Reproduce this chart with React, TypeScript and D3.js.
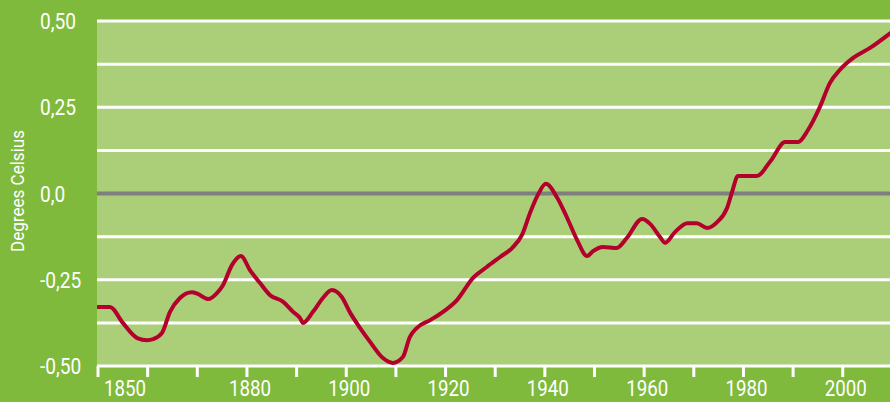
import React from "react";
import * as d3 from "d3";

// Smoothed global temperature anomaly (°C)
const years: number[] = [
  1850, 1852.4, 1855.0, 1857.9, 1859.9, 1861.1, 1862.9, 1864.5, 1866.5, 1868.9,
  1870.1, 1872.2, 1874.0, 1875.2, 1877.0, 1878.8, 1880.6, 1882.6, 1884.6, 1887.3,
  1889.3, 1890.7, 1891.3, 1893.3, 1895.3, 1897.1, 1899.1, 1900.8, 1902.8, 1904.8,
  1907.4, 1909.4, 1911.4, 1912.8, 1914.2, 1916.9, 1919.5, 1922.3, 1925.5, 1928.3,
  1931.0, 1933.4, 1935.4, 1937.0, 1938.6, 1940.2, 1942.4, 1944.5, 1946.5, 1948.5,
  1949.7, 1951.7, 1954.5, 1956.5, 1959.6, 1961.2, 1963.2, 1964.2, 1966.2, 1968.7,
  1970.6, 1972.7, 1974.7, 1976.7, 1977.7, 1978.9, 1982.7, 1985.5, 1988.4, 1991.0,
  1993.0, 1995.4, 1997.4, 1999.4, 2002.1, 2005.5, 2009.6,
];
const anomalies: number[] = [
  -0.329, -0.329, -0.375, -0.419, -0.425, -0.422, -0.404, -0.343, -0.303, -0.286,
  -0.291, -0.306, -0.288, -0.265, -0.207, -0.181, -0.222, -0.259, -0.294, -0.314,
  -0.343, -0.361, -0.375, -0.343, -0.303, -0.28, -0.3, -0.346, -0.39, -0.43,
  -0.477, -0.491, -0.474, -0.416, -0.39, -0.367, -0.343, -0.309, -0.245, -0.213,
  -0.184, -0.158, -0.12, -0.057, -0.004, 0.028, -0.01, -0.071, -0.135, -0.181,
  -0.167, -0.155, -0.158, -0.129, -0.074, -0.088, -0.126, -0.143, -0.112, -0.086,
  -0.086, -0.1, -0.083, -0.042, 0.004, 0.051, 0.051, 0.095, 0.149, 0.149,
  0.184, 0.251, 0.32, 0.358, 0.393, 0.422, 0.465,
];

const yTickValues: number[] = [0.5, 0.25, 0, -0.25, -0.5];
const yTickLabels: string[] = ["0,50", "0,25", "0,0", "-0,25", "-0,50"];
const gridValues: number[] = [0.5, 0.375, 0.25, 0.125, -0.125, -0.25, -0.375];
const xTickYears: number[] = [1850, 1860, 1870, 1880, 1890, 1900, 1910, 1920, 1930, 1940, 1950, 1960, 1970, 1980, 1990, 2000];
const xLabelYears: number[] = [1880, 1900, 1920, 1940, 1960, 1980, 2000];
const firstLabel = "1850";
const yAxisTitle = "Degrees Celsius";

const W = 890;
const H = 402;
const left = 97;
const right = 890;
const top = 21;
const bottom = 366;

const DARK = "#80ba3d";
const LIGHT = "#abcf79";
const RED = "#b3002c";
const GREY = "#7f7f7f";
const FONT = "Roboto, 'Open Sans', sans-serif";

export default function App() {
  const x = d3.scaleLinear().domain([1850, 2010]).range([98, 98 + 160 * 4.965]);
  const y = d3.scaleLinear().domain([-0.5, 0.5]).range([bottom, top]);

  const pts: [number, number][] = years.map((yr, i) => [yr, anomalies[i]]);
  const line = d3
    .line<[number, number]>()
    .x((d) => x(d[0]))
    .y((d) => y(d[1]))
    .curve(d3.curveMonotoneX);

  return (
    <svg
      width={W}
      height={H}
      style={{ position: "absolute", left: 0, top: 0, display: "block" }}
    >
      <defs>
        <clipPath id="plotclip">
          <rect x={left} y={top - 5} width={right - left} height={bottom - top + 5} />
        </clipPath>
      </defs>
      <rect x={0} y={0} width={W} height={H} fill={DARK} />
      <rect x={left} y={top} width={right - left} height={bottom - top} fill={LIGHT} />

      {gridValues.map((v) => (
        <line key={v} x1={left} x2={right} y1={y(v)} y2={y(v)} stroke="#fff" strokeWidth={3} />
      ))}
      <line x1={left} x2={right} y1={y(0)} y2={y(0)} stroke={GREY} strokeWidth={4} />
      <line x1={left} x2={right} y1={bottom} y2={bottom} stroke="#fff" strokeWidth={3} />

      {xTickYears.map((yr) => (
        <line key={yr} x1={x(yr)} x2={x(yr)} y1={bottom} y2={bottom + 11} stroke="#fff" strokeWidth={3} />
      ))}

      <path
        d={line(pts) || ""}
        fill="none"
        stroke={RED}
        strokeWidth={4}
        strokeLinejoin="round"
        strokeLinecap="round"
        clipPath="url(#plotclip)"
      />

      {yTickValues.map((v, i) => (
        <text
          key={v}
          transform={`translate(40,${y(v) + 8}) scale(0.85,1)`}
          fill="#fff"
          fontFamily={FONT}
          fontSize={22.5}
          textAnchor="start"
        >
          {yTickLabels[i]}
        </text>
      ))}

      <text
        transform={`translate(${x(1850) + 27},396) scale(0.85,1)`}
        fill="#fff"
        fontFamily={FONT}
        fontSize={22}
        textAnchor="middle"
      >
        {firstLabel}
      </text>
      {xLabelYears.map((yr) => (
        <text
          key={yr}
          transform={`translate(${x(yr) + 3},396) scale(0.85,1)`}
          fill="#fff"
          fontFamily={FONT}
          fontSize={22}
          textAnchor="middle"
        >
          {String(yr)}
        </text>
      ))}

      <text
        transform={`translate(24,191) rotate(-90)`}
        fill="#fff"
        fontFamily={FONT}
        fontSize={17.5}
        textAnchor="middle"
        textLength={122}
        lengthAdjust="spacingAndGlyphs"
      >
        {yAxisTitle}
      </text>
    </svg>
  );
}
